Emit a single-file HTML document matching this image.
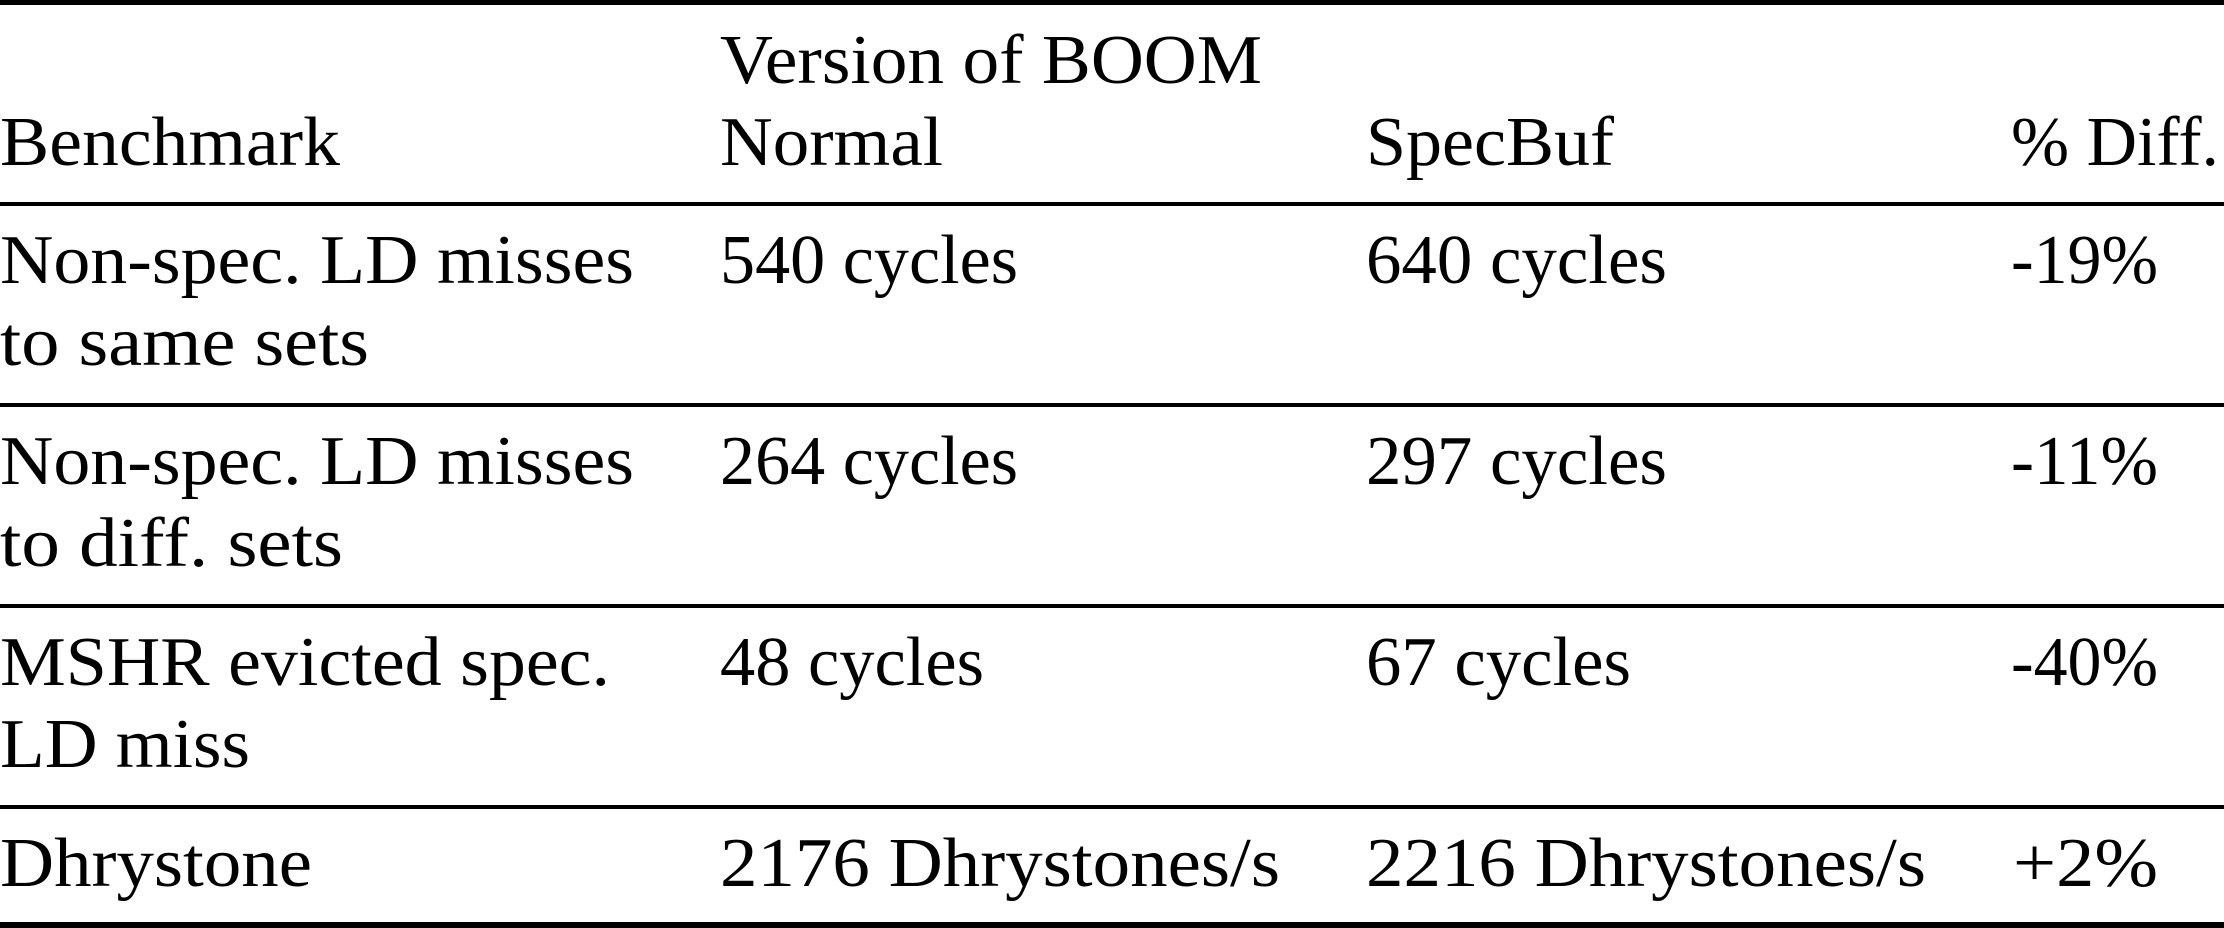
<!DOCTYPE html>
<html><head><meta charset="utf-8"><style>
html,body{margin:0;padding:0;background:#fff;}
svg{display:block;}
text{font-family:"Liberation Serif",serif;font-size:70px;fill:#000;}
</style></head><body>
<svg width="2224" height="928" viewBox="0 0 2224 928">
<rect x="0" y="0" width="2224" height="5" fill="#000"/>
<rect x="0" y="202" width="2224" height="4" fill="#000"/>
<rect x="0" y="403" width="2224" height="4" fill="#000"/>
<rect x="0" y="604" width="2224" height="4" fill="#000"/>
<rect x="0" y="805" width="2224" height="4" fill="#000"/>
<rect x="0" y="922" width="2224" height="6" fill="#000"/>

<text x="720" y="83" textLength="542" lengthAdjust="spacingAndGlyphs">Version of BOOM</text>
<text x="0" y="165" textLength="340" lengthAdjust="spacingAndGlyphs">Benchmark</text>
<text x="720" y="165" textLength="223" lengthAdjust="spacingAndGlyphs">Normal</text>
<text x="1366" y="165" textLength="248" lengthAdjust="spacingAndGlyphs">SpecBuf</text>
<text x="2011" y="165" textLength="208" lengthAdjust="spacingAndGlyphs">% Diff.</text>

<text x="0" y="283" textLength="634" lengthAdjust="spacingAndGlyphs">Non-spec. LD misses</text>
<text x="0" y="365" textLength="369" lengthAdjust="spacingAndGlyphs">to same sets</text>
<text x="720" y="283" textLength="298" lengthAdjust="spacingAndGlyphs">540 cycles</text>
<text x="1366" y="283" textLength="301" lengthAdjust="spacingAndGlyphs">640 cycles</text>
<text x="2011" y="283" textLength="147" lengthAdjust="spacingAndGlyphs">-19%</text>

<text x="0" y="484" textLength="634" lengthAdjust="spacingAndGlyphs">Non-spec. LD misses</text>
<text x="0" y="566" textLength="343" lengthAdjust="spacingAndGlyphs">to diff. sets</text>
<text x="720" y="484" textLength="298" lengthAdjust="spacingAndGlyphs">264 cycles</text>
<text x="1366" y="484" textLength="301" lengthAdjust="spacingAndGlyphs">297 cycles</text>
<text x="2011" y="484" textLength="147" lengthAdjust="spacingAndGlyphs">-11%</text>

<text x="0" y="685" textLength="610" lengthAdjust="spacingAndGlyphs">MSHR evicted spec.</text>
<text x="0" y="767" textLength="250" lengthAdjust="spacingAndGlyphs">LD miss</text>
<text x="720" y="685" textLength="264" lengthAdjust="spacingAndGlyphs">48 cycles</text>
<text x="1366" y="685" textLength="265" lengthAdjust="spacingAndGlyphs">67 cycles</text>
<text x="2011" y="685" textLength="147" lengthAdjust="spacingAndGlyphs">-40%</text>

<text x="0" y="886" textLength="312" lengthAdjust="spacingAndGlyphs">Dhrystone</text>
<text x="720" y="886" textLength="560" lengthAdjust="spacingAndGlyphs">2176 Dhrystones/s</text>
<text x="1366" y="886" textLength="560" lengthAdjust="spacingAndGlyphs">2216 Dhrystones/s</text>
<text x="2013" y="886" textLength="145" lengthAdjust="spacingAndGlyphs">+2%</text>
</svg>
</body></html>
